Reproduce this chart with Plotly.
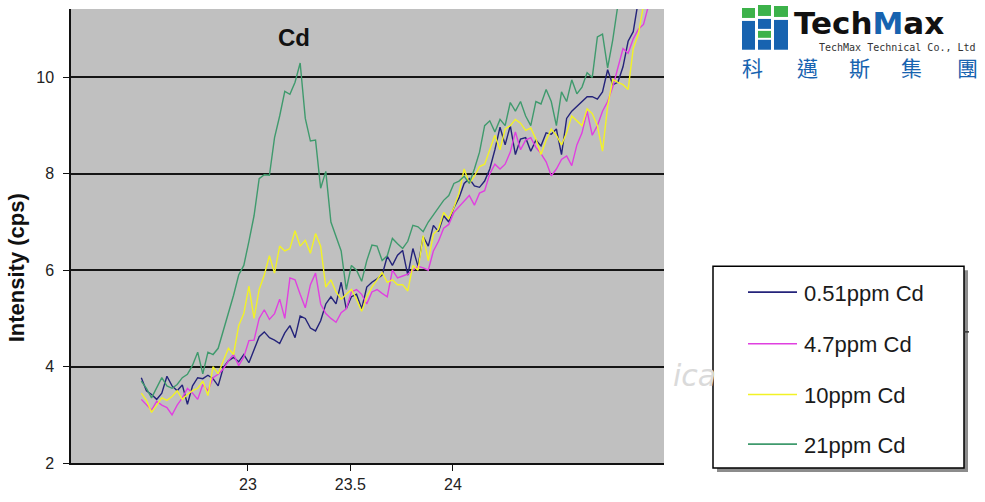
import plotly.graph_objects as go

# ---------------- data ----------------
x_pos = [22.480, 22.505, 22.530, 22.555, 22.580, 22.605, 22.630, 22.655, 22.680, 22.705,
         22.730, 22.755, 22.780, 22.805, 22.830, 22.855, 22.880, 22.905, 22.930, 22.955,
         22.980, 23.005, 23.030, 23.055, 23.080, 23.105, 23.130, 23.155, 23.180, 23.205,
         23.230, 23.255, 23.280, 23.305, 23.330, 23.355, 23.380, 23.405, 23.430, 23.455,
         23.480, 23.505, 23.530, 23.555, 23.580, 23.605, 23.630, 23.655, 23.680, 23.705,
         23.730, 23.755, 23.780, 23.805, 23.830, 23.855, 23.880, 23.905, 23.930, 23.955,
         23.980, 24.005, 24.030, 24.055, 24.080, 24.105, 24.130, 24.155, 24.180, 24.205,
         24.230, 24.255, 24.280, 24.305, 24.330, 24.355, 24.380, 24.405, 24.430, 24.455,
         24.480, 24.505, 24.530, 24.555, 24.580, 24.605, 24.630, 24.655, 24.680, 24.705,
         24.730, 24.755, 24.780, 24.805, 24.830, 24.855, 24.880, 24.905, 24.930, 24.955,
         24.980]

series_names = ["0.51ppm Cd", "4.7ppm Cd", "10ppm Cd", "21ppm Cd"]

cd_0_51 = [3.77, 3.5, 3.42, 3.32, 3.45, 3.8, 3.6, 3.5, 3.62, 3.22,
           3.6, 3.77, 3.75, 3.82, 3.75, 3.6, 3.98, 4.12, 4.19, 4.1,
           4.25, 4.08, 4.35, 4.62, 4.72, 4.6, 4.55, 4.48, 4.7, 4.85,
           4.6, 5.05, 5.0, 4.8, 4.74, 4.95, 5.3, 5.45, 5.3, 5.75,
           5.2, 5.45, 5.5, 5.2, 5.65, 5.75, 5.82, 5.9, 6.29, 6.1,
           6.31, 6.41, 5.9, 6.45, 6.08, 6.7, 6.5, 6.93, 6.8, 7.13,
           7.0, 7.3, 7.5, 7.8, 7.9, 7.75, 7.72, 7.85, 8.1, 8.5,
           8.97, 8.6, 9.0, 8.4, 8.72, 8.75, 8.47, 8.7, 8.58, 8.85,
           8.82, 8.93, 8.4, 9.15, 9.3, 9.4, 9.5, 9.6, 9.6, 9.55,
           9.7, 10.16, 9.85, 9.9, 10.22, 10.75, 10.95, 11.6, 12.0, 12.4]

cd_4_7 = [3.32, 3.2, 3.1, 3.28, 3.2, 3.15, 3.0, 3.2, 3.35, 3.55,
          3.45, 3.32, 3.63, 3.5, 3.77, 3.84, 3.95, 4.12, 4.25, 4.02,
          4.2, 4.54, 4.55, 5.0, 5.18, 4.98, 5.1, 5.4, 5.0, 5.84,
          5.8, 5.5, 5.22, 5.7, 5.94, 5.3, 5.1, 5.0, 4.92, 5.12,
          5.2, 5.55, 5.6, 5.5, 5.3, 5.55, 5.6, 5.52, 5.45, 6.0,
          5.84, 5.88, 5.92, 6.0, 6.08, 6.05, 6.0, 6.4, 6.6, 6.87,
          6.95, 7.2, 7.32, 7.45, 7.55, 7.35, 7.6, 7.65, 8.0, 8.2,
          8.1, 8.2, 8.45, 8.87, 8.5, 8.7, 8.75, 8.55, 8.42, 8.25,
          7.96, 8.1, 8.3, 8.37, 8.17, 8.6, 8.85, 9.3, 8.8, 9.0,
          9.3, 9.5, 9.8, 10.2, 10.6, 10.5, 10.8, 11.0, 11.1, 11.5,
          11.9]

cd_10 = [3.45, 3.3, 3.05, 3.2, 3.35, 3.3, 3.38, 3.5, 3.32, 3.42,
         3.5, 3.55, 3.7, 3.4, 4.0, 3.85, 4.1, 4.38, 4.25, 4.85,
         5.1, 5.67, 5.0, 5.6, 5.9, 6.3, 5.94, 6.5, 6.4, 6.45,
         6.82, 6.5, 6.62, 6.35, 6.76, 6.5, 5.65, 5.8, 5.55, 5.4,
         5.5, 5.6, 5.4, 5.15, 5.45, 5.65, 5.8, 5.95, 5.75, 5.8,
         5.7, 5.7, 5.57, 6.1, 6.0, 6.72, 6.2, 6.75, 6.85, 7.2,
         7.07, 7.3, 7.6, 8.1, 7.8, 7.95, 8.15, 8.2, 8.5, 8.8,
         8.5, 8.93, 9.0, 9.13, 9.05, 8.9, 8.95, 8.72, 8.4, 8.7,
         8.93, 8.8, 8.6, 8.85, 9.2, 9.1, 9.0, 9.35, 9.25, 9.0,
         8.47, 9.4, 9.96, 9.9, 9.85, 9.75, 10.6, 10.9, 11.5, 11.9]

cd_21 = [3.7, 3.55, 3.35, 3.55, 3.77, 3.6, 3.55, 3.63, 3.77, 3.84,
         4.03, 4.3, 3.85, 4.3, 4.25, 4.38, 4.74, 5.1, 5.48, 5.9,
         6.1, 6.6, 7.13, 7.9, 7.98, 7.97, 8.75, 9.2, 9.71, 9.65,
         9.9, 10.3, 9.15, 8.68, 8.7, 7.7, 8.05, 7.0, 6.72, 6.4,
         5.6, 6.1, 6.0, 5.77, 6.2, 6.52, 6.5, 6.2, 6.3, 6.66,
         6.55, 6.45, 6.6, 6.93, 6.9, 6.8, 7.0, 7.15, 7.32, 7.45,
         7.55, 7.8, 7.85, 7.95, 7.8, 8.1, 8.45, 9.0, 9.1, 8.87,
         9.13, 9.0, 9.48, 9.3, 9.5, 9.2, 9.0, 9.5, 9.45, 9.75,
         9.5, 9.0, 9.7, 9.5, 9.95, 9.66, 9.8, 10.1, 10.0, 10.84,
         10.9, 10.2, 10.78, 11.5, 11.9, 12.2]

series_values = [cd_0_51, cd_4_7, cd_10, cd_21]
series_colors = ["#24237a", "#e040e0", "#f2f226", "#3f9a6d"]

y_ticks = [2, 4, 6, 8, 10]
x_ticks = [23, 23.5, 24]
x_tick_text = ["23", "23.5", "24"]

# ---------------- layout helpers ----------------
W, H = 985, 502
L, R, T, B = 71, 321, 9, 36
PW, PH = W - L - R, H - T - B


def px(xp):
    return (xp - L) / PW


def py(yp):
    return (H - B - yp) / PH


fig = go.Figure()
for name, ys, col in zip(series_names, series_values, series_colors):
    fig.add_trace(go.Scatter(
        x=x_pos[:len(ys)], y=ys, mode="lines", name=name,
        line=dict(color=col, width=1.4), showlegend=False,
        hoverinfo="x+y+name"))

shapes = []
annotations = []

# legend box (shadow + frame)
lx0, lx1, ly0, ly1 = 713, 964, 268, 471
shapes.append(dict(type="rect", xref="paper", yref="paper",
                   x0=px(lx0 + 4), x1=px(lx1 + 4), y0=py(ly1 + 4), y1=py(ly0 + 4),
                   fillcolor="#8c8c8c", line=dict(width=0), layer="above"))
shapes.append(dict(type="rect", xref="paper", yref="paper",
                   x0=px(lx0), x1=px(lx1), y0=py(ly1), y1=py(ly0),
                   fillcolor="white", line=dict(color="black", width=1.5), layer="above"))
entry_y = [294, 346, 397, 447]
for name, col, ey in zip(series_names, series_colors, entry_y):
    shapes.append(dict(type="line", xref="paper", yref="paper",
                       x0=px(748), x1=px(797), y0=py(ey), y1=py(ey),
                       line=dict(color=col, width=1.6), layer="above"))
    annotations.append(dict(xref="paper", yref="paper", x=px(802), y=py(ey + 1),
                            xanchor="left", yanchor="middle", showarrow=False,
                            text=name, font=dict(family="Liberation Sans", size=22, color="#1a1a1a")))

# small stray tick at the right of the legend
shapes.append(dict(type="line", xref="paper", yref="paper",
                   x0=px(964), x1=px(969), y0=py(334), y1=py(334),
                   line=dict(color="#333", width=1.5), layer="above"))

# faint watermark fragment
annotations.append(dict(xref="paper", yref="paper", x=px(694), y=py(378),
                        xanchor="center", yanchor="middle", showarrow=False,
                        text="ica", font=dict(family="DejaVu Sans", size=30, color="#dadada", style="italic")))

# title "Cd"
annotations.append(dict(xref="paper", yref="paper", x=px(294), y=py(38),
                        xanchor="center", yanchor="middle", showarrow=False,
                        text="<b>Cd</b>", font=dict(family="Liberation Sans", size=24, color="#111")))

# y axis title
annotations.append(dict(xref="paper", yref="paper", x=px(16), y=py(270),
                        xanchor="center", yanchor="middle", showarrow=False, textangle=-90,
                        text="<b>Intensity (cps)</b>", font=dict(family="Liberation Sans", size=22, color="#111")))

# ---- logo ----
green, blue = "#3cb24a", "#1763b0"
logo_blocks = [
    (742, 755, 8, 18, green), (742, 755, 21, 50, blue),
    (758, 771, 5, 16, green), (758, 771, 19, 29, blue), (758, 771, 31, 38, green), (758, 771, 40, 50, blue),
    (774, 788, 6, 17, green), (774, 788, 20, 50, blue),
]
for x0, x1, y0, y1, c in logo_blocks:
    shapes.append(dict(type="rect", xref="paper", yref="paper",
                       x0=px(x0), x1=px(x1), y0=py(y1), y1=py(y0),
                       fillcolor=c, line=dict(width=0), layer="above"))
annotations.append(dict(xref="paper", yref="paper", x=px(792), y=py(23),
                        xanchor="left", yanchor="middle", showarrow=False,
                        text="<b>Tech<span style='color:#1763b0'>M</span>ax</b>",
                        font=dict(family="DejaVu Sans", size=31, color="#111")))
annotations.append(dict(xref="paper", yref="paper", x=px(978), y=py(47.5),
                        xanchor="right", yanchor="middle", showarrow=False,
                        text="TechMax Technical Co., Ltd",
                        font=dict(family="DejaVu Sans Mono", size=10, color="#333")))
for ch, cx in zip(["科", "邁", "斯", "集", "團"], [752, 807, 859, 911, 968]):
    annotations.append(dict(xref="paper", yref="paper", x=px(cx), y=py(67),
                            xanchor="center", yanchor="middle", showarrow=False,
                            text=ch, font=dict(family="Noto Sans CJK TC", size=21, color=blue)))

fig.update_layout(
    width=W, height=H,
    margin=dict(l=L, r=R, t=T, b=B, pad=0),
    paper_bgcolor="white", plot_bgcolor="#c0c0c0",
    showlegend=False,
    shapes=shapes, annotations=annotations,
    xaxis=dict(range=[22.137, 25.03], tickvals=x_ticks, ticktext=x_tick_text,
               showgrid=False, zeroline=False, showline=True, linecolor="#111", linewidth=1.5,
               ticks="outside", ticklen=6, tickcolor="#111", tickwidth=1.2,
               tickfont=dict(family="Liberation Sans", size=16, color="#222")),
    yaxis=dict(range=[2, 11.42], tickvals=y_ticks,
               showgrid=True, gridcolor="#151515", gridwidth=1.5,
               zeroline=False, showline=True, linecolor="#111", linewidth=1.5,
               ticks="outside", ticklen=6, tickcolor="#111", tickwidth=1.2,
               ticklabelstandoff=6,
               tickfont=dict(family="Liberation Sans", size=16, color="#222")),
)

fig.write_html("out.html")
